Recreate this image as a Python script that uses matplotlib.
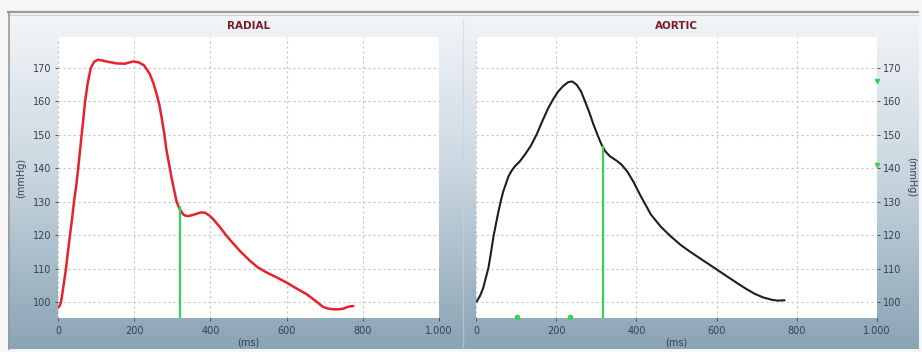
import numpy as np
import matplotlib
matplotlib.use("Agg")
import matplotlib.pyplot as plt
from matplotlib.ticker import FuncFormatter

# ---------------- data ----------------
radial_t = [0, 4, 8, 14, 21, 26, 31.5, 37, 42, 48, 53, 58, 62, 67, 71, 78, 86, 95, 105, 115,
            130, 154, 175, 198, 212, 226, 241, 250, 259, 266, 272, 279, 285, 292, 298, 305,
            311, 316, 320, 325, 329, 335, 342, 353, 364, 375, 386, 397, 408, 425, 443, 460,
            478, 504, 525, 548, 575, 600, 625, 653, 675, 696, 710, 723, 736, 749, 762, 775]
radial_p = [98.3, 98.8, 100.0, 104.5, 110.0, 115.0, 120.0, 125.0, 130.0, 135.0, 140.0, 145.5,
            150.0, 155.3, 160.0, 165.5, 170.0, 171.9, 172.5, 172.3, 171.9, 171.4, 171.3, 172.0,
            171.7, 170.8, 168.2, 165.6, 162.2, 159.0, 155.2, 150.3, 145.2, 141.0, 137.2, 133.4,
            130.2, 128.7, 127.7, 126.8, 126.2, 125.8, 125.7, 126.0, 126.4, 126.8, 126.7, 125.9,
            124.7, 122.4, 119.7, 117.5, 115.2, 112.3, 110.3, 108.8, 107.3, 105.8, 104.1, 102.3,
            100.4, 98.5, 98.0, 97.8, 97.8, 98.0, 98.6, 98.8]

aortic_t = [2, 10, 18, 24, 31, 37, 43, 50, 56, 62, 68, 75, 81, 89, 97, 110, 122, 137, 151, 165,
            180, 193, 205, 218, 230, 240, 251, 262, 272, 283, 293, 303, 313, 323, 334, 348, 363,
            378, 392, 409, 436, 461, 486, 511, 532, 553, 578, 603, 628, 653, 674, 694, 715, 736,
            752, 769]
aortic_p = [100.2, 101.8, 104.2, 107.0, 110.2, 114.5, 119.2, 123.5, 127.1, 130.3, 133.1, 135.5,
            137.6, 139.3, 140.6, 142.2, 144.1, 146.8, 150.1, 154.0, 158.0, 160.8, 163.0, 164.7,
            165.8, 166.0, 165.0, 163.0, 160.0, 156.6, 153.1, 150.0, 147.1, 145.0, 143.6, 142.5,
            141.1, 138.9, 136.1, 132.1, 126.2, 122.5, 119.6, 117.0, 115.2, 113.5, 111.5, 109.5,
            107.5, 105.5, 103.9, 102.5, 101.4, 100.7, 100.4, 100.5]

radial_marker_t = 320
radial_marker_p = 128.5
aortic_marker_t = 317
aortic_marker_p = 146.5
aortic_foot_t = [102, 234]
aortic_side_p = [166, 141]

x_ticks = [0, 200, 400, 600, 800, 1000]
y_ticks = [100, 110, 120, 130, 140, 150, 160, 170]
titles = ["RADIAL", "AORTIC"]
x_label = "(ms)"
y_label = "(mmHg)"

# ---------------- figure ----------------
W, H = 922, 352
fig = plt.figure(figsize=(W / 100, H / 100), dpi=100)
fig.patch.set_facecolor("#f6f6f6")

def fx(px):
    return px / W

def fy(py):
    return 1 - py / H

# background gradient panel
bg = fig.add_axes([fx(8), fy(349), fx(918) - fx(8), fy(13) - fy(349)], zorder=0)
bg.set_axis_off()
grad_top = np.array([0.955, 0.962, 0.970])
grad_mid = np.array([0.80, 0.85, 0.885])
grad_bot = np.array([0.54, 0.64, 0.71])
n = 256
s = np.linspace(0, 1, n)[:, None]
cols = np.where(s < 0.45,
                grad_top + (grad_mid - grad_top) * (s / 0.45),
                grad_mid + (grad_bot - grad_mid) * ((s - 0.45) / 0.55))
img = np.repeat(cols[:, None, :], 4, axis=1)
bg.imshow(img, aspect="auto", extent=[0, 1, 0, 1], origin="upper")
bg.set_xlim(0, 1)
bg.set_ylim(0, 1)
# frame lines
fig.add_artist(plt.Line2D([fx(8), fx(918)], [fy(12), fy(12)], color="#9a9a9a", lw=1.6, transform=fig.transFigure))
fig.add_artist(plt.Line2D([fx(8), fx(918)], [fy(14.5), fy(14.5)], color="#d0d0d0", lw=0.8, transform=fig.transFigure))
fig.add_artist(plt.Line2D([fx(8.5), fx(8.5)], [fy(12), fy(349)], color="#9a9a9a", lw=1.2, transform=fig.transFigure))
fig.add_artist(plt.Line2D([fx(463), fx(463)], [fy(20), fy(349)], color="#c6d2dc", lw=1.0, alpha=0.6, transform=fig.transFigure))

tick_color = "#34424f"

def style_axes(ax, title, right=False):
    ax.set_facecolor("white")
    ax.set_xlim(0, 1000)
    ax.set_ylim(95.2, 179.3)
    ax.set_xticks(x_ticks)
    ax.set_yticks(y_ticks)
    ax.xaxis.set_major_formatter(FuncFormatter(lambda v, p: f"{int(v):,}".replace(",", ".")))
    for sp in ax.spines.values():
        sp.set_visible(False)
    ax.grid(True, color="#c4c4c4", ls=(0, (2, 2.5)), lw=0.8)
    ax.tick_params(axis="both", labelsize=7, colors=tick_color, length=2.5, width=0.6, pad=2)
    ax.tick_params(axis="x", pad=3)
    if right:
        ax.yaxis.tick_right()
        ax.yaxis.set_label_position("right")
        ax.set_ylabel(y_label, rotation=270, fontsize=7, color=tick_color, labelpad=10)
    else:
        ax.set_ylabel(y_label, fontsize=7, color=tick_color, labelpad=5)
    ax.set_xlabel(x_label, fontsize=7, color=tick_color, labelpad=1)
    ax.set_title(title, fontsize=7.5, fontweight="bold", color="#7a1a26", pad=6)
    ax.set_zorder(2)

# radial
ax1 = fig.add_axes([fx(58), fy(318), (439 - 58) / W, (318 - 37) / H])
style_axes(ax1, titles[0])
ax1.plot(radial_t, radial_p, color="#e8222c", lw=1.8, solid_capstyle="round",
         solid_joinstyle="round", zorder=3)
ax1.plot([radial_marker_t, radial_marker_t], [95.2, radial_marker_p], color="#38d058", lw=1.6, zorder=4)

# aortic
ax2 = fig.add_axes([fx(476), fy(318), (877 - 476) / W, (318 - 37) / H])
style_axes(ax2, titles[1], right=True)
ax2.plot(aortic_t, aortic_p, color="#1e1e1e", lw=1.5, solid_joinstyle="round", zorder=3)
ax2.plot([aortic_marker_t, aortic_marker_t], [95.2, aortic_marker_p], color="#38d058", lw=1.6, zorder=4)
ax2.plot(aortic_foot_t, [95.6] * len(aortic_foot_t), "o", color="#38d058", ms=3, clip_on=False, zorder=5)
ax2.plot([1000] * len(aortic_side_p), aortic_side_p, "v", color="#38d058", ms=3, clip_on=False, zorder=5)

fig.savefig("out.png", dpi=100, facecolor=fig.get_facecolor())
